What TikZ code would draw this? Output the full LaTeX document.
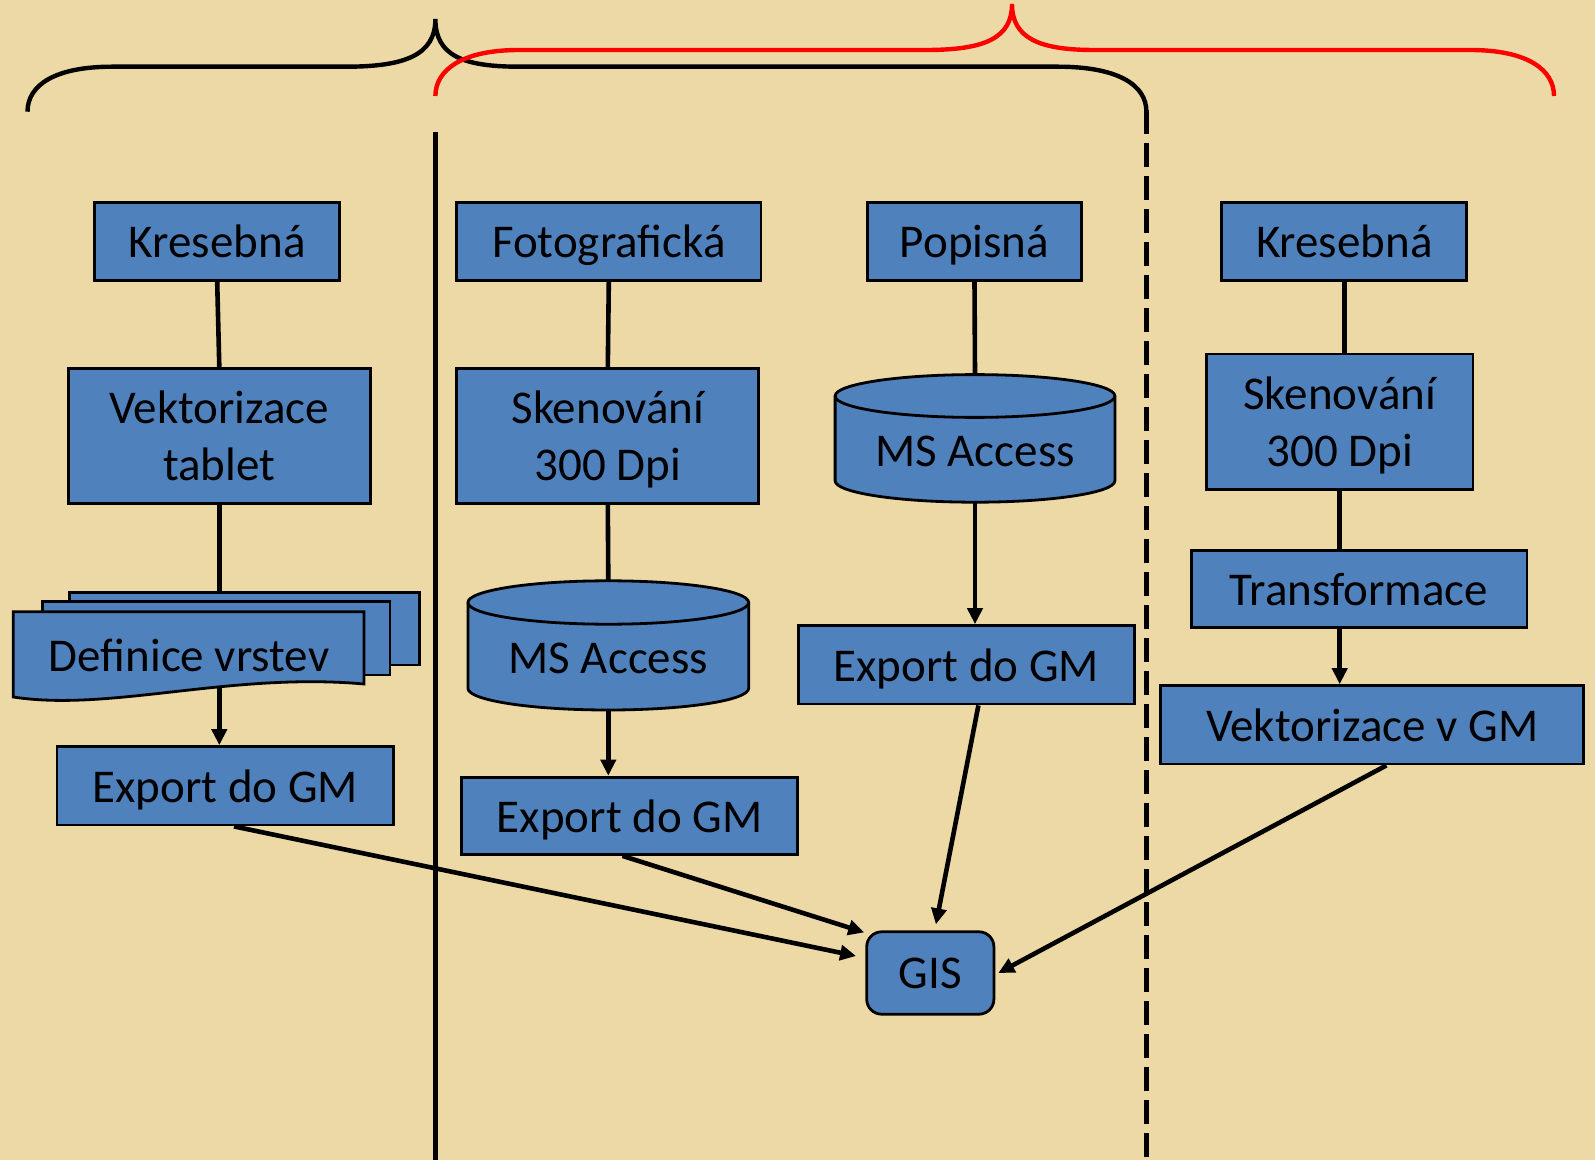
\documentclass[tikz,border=0pt]{standalone}
\usepackage{fontspec}
\setmainfont{Carlito}
\usepackage{xcolor}
\usepackage{tikz}
\usetikzlibrary{arrows.meta}

\definecolor{parch}{RGB}{237,217,166}
\definecolor{boxblue}{RGB}{79,129,189}

\begin{document}
\begin{tikzpicture}[x=0.5pt,y=0.5pt,
    box/.style={shape=rectangle, draw, fill=boxblue, line width=1.4pt, inner sep=0pt,
        minimum height=39.2pt, text depth=0pt, align=center, font=\fontsize{23.5}{28.5}\selectfont},
    tall/.style={box, minimum height=67.7pt},
    cylbox/.style={shape=rectangle, inner sep=0pt, font=\fontsize{23.5}{28.5}\selectfont},
    dbody/.style={draw, fill=boxblue, line width=1.4pt},
    conn/.style={line width=2.3pt},
    arr/.style={conn, -{Triangle[length=8pt,width=7.5pt]}},
    brace/.style={line width=2.2pt}]
    \useasboundingbox (0,0) rectangle (1595,-1160);
    \fill[parch] (0,0) rectangle (1595,-1160);

    % braces over the columns
    \draw[brace] (27.5,-111.7) .. controls (27.5,-85) and (55,-66.7) .. (112,-66.7) -- (346,-66.7)
        .. controls (405,-66.7) and (435.4,-55) .. (435.4,-19)
        .. controls (435.4,-55) and (462,-66.7) .. (519,-66.7) -- (1058,-66.7)
        .. controls (1118,-66.7) and (1146.4,-85) .. (1146.4,-111.7);
    \draw[brace,red] (435.4,-96) .. controls (435.4,-70) and (462,-50) .. (519,-50) -- (926,-50)
        .. controls (985,-50) and (1012,-38) .. (1012,-4)
        .. controls (1012,-38) and (1039,-50) .. (1094,-50) -- (1470,-50)
        .. controls (1528,-50) and (1554,-70) .. (1554,-96);

    % dividers
    \draw[line width=2.6pt] (435.4,-132) -- (435.4,-1160);
    \draw[line width=2.6pt,dash pattern=on 12pt off 4.5pt] (1146.4,-110) -- (1146.4,-1160);

    % left column
    \node[box, minimum width=122.5pt] (kres1) at (217.2,-241.6) {Kresebná};
    \node[tall, minimum width=151pt] (vekt) at (219.3,-435.9) {Vektorizace\\tablet};
    \node[box, minimum width=168.4pt] (exp1) at (225.4,-785.8) {Export do GM};
    \draw[conn] (kres1.south) -- (vekt.north);
    \draw[arr] (vekt.south) -- (vekt.south |- exp1.north);
    \filldraw[dbody] (69.3,-592.7) rectangle (419.3,-665);
    \filldraw[dbody] (42.3,-601.7) rectangle (390,-675);
    \filldraw[dbody] (13.3,-611.7) -- (364,-611.7) -- (364,-684)
        .. controls (230,-672) and (110,-712) .. (13.3,-697) -- cycle;
    \node[cylbox] (defin) at (189,-655) {Definice vrstev};

    % middle column
    \node[box, minimum width=152.1pt] (foto) at (608.8,-241.6) {Fotografická};
    \node[tall, minimum width=151pt] (sken1) at (607.8,-435.9) {Skenování\\300 Dpi};
    \filldraw[dbody] (467.9,-602.5) -- (467.9,-688.3)
        arc[start angle=180,end angle=360,x radius=70.2pt,y radius=10.85pt] -- (748.7,-602.5)
        arc[start angle=0,end angle=180,x radius=70.2pt,y radius=10.85pt] -- cycle;
    \draw[line width=1.4pt] (467.9,-602.5) arc[start angle=180,end angle=360,x radius=70.2pt,y radius=10.85pt];
    \node[cylbox, minimum width=140.4pt, minimum height=64.6pt,
        label={[cylbox,yshift=-6.3pt]center:MS Access}] (msa1) at (608.3,-645.4) {};
    \node[box, minimum width=167.9pt, minimum height=38.7pt] (exp2) at (629.7,-815.8) {Export do GM};
    \draw[conn] (foto.south) -- (sken1.north);
    \draw[conn] (sken1.south) -- (msa1.north);
    \draw[arr] (msa1.south) -- (msa1.south |- exp2.north);

    \node[box, minimum width=106.8pt] (pop) at (974.5,-241.6) {Popisná};
    \filldraw[dbody] (835.1,-396) -- (835.1,-480.8)
        arc[start angle=180,end angle=360,x radius=69.95pt,y radius=10.7pt] -- (1114.9,-396)
        arc[start angle=0,end angle=180,x radius=69.95pt,y radius=10.7pt] -- cycle;
    \draw[line width=1.4pt] (835.1,-396) arc[start angle=180,end angle=360,x radius=69.95pt,y radius=10.7pt];
    \node[cylbox, minimum width=139.9pt, minimum height=64.1pt,
        label={[cylbox,yshift=-6.5pt]center:MS Access}] (msa2) at (975,-438.4) {};
    \node[box, minimum width=167.9pt] (exp3) at (966.4,-664.8) {Export do GM};
    \draw[conn] (pop.south) -- (msa2.north);
    \draw[arr] (msa2.south) -- (msa2.south |- exp3.north);

    % right column
    \node[box, minimum width=122.5pt] (kres2) at (1344.3,-241.6) {Kresebná};
    \node[tall, minimum width=133.3pt] (sken2) at (1339.7,-421.7) {Skenování\\300 Dpi};
    \node[box, minimum width=167.9pt, minimum height=38.7pt] (trans) at (1359,-589) {Transformace};
    \node[box, minimum width=211.6pt] (vgm) at (1372.2,-724.8) {Vektorizace v GM};
    \draw[conn] (kres2.south) -- (kres2.south |- sken2.north);
    \draw[conn] (sken2.south) -- (sken2.south |- trans.north);
    \draw[arr] (sken2.south |- trans.south) -- (sken2.south |- vgm.north);

    % GIS
    \node[box, rounded corners=7.5pt, minimum width=63.6pt, minimum height=41.2pt] (gis) at (930.3,-973) {GIS};
    \draw[arr] ([xshift=4.3pt]exp1.south) -- ([xshift=-4.6pt,yshift=8.5pt]gis.west);
    \draw[arr] ([xshift=-3.6pt]exp2.south) -- ([xshift=-0.5pt,yshift=-1pt]gis.north west);
    \draw[arr] ([xshift=6pt]exp3.south) -- ([xshift=2.8pt,yshift=3pt]gis.north);
    \draw[arr] ([xshift=7.1pt]vgm.south) -- ([xshift=1.5pt]gis.east);
\end{tikzpicture}
\end{document}
